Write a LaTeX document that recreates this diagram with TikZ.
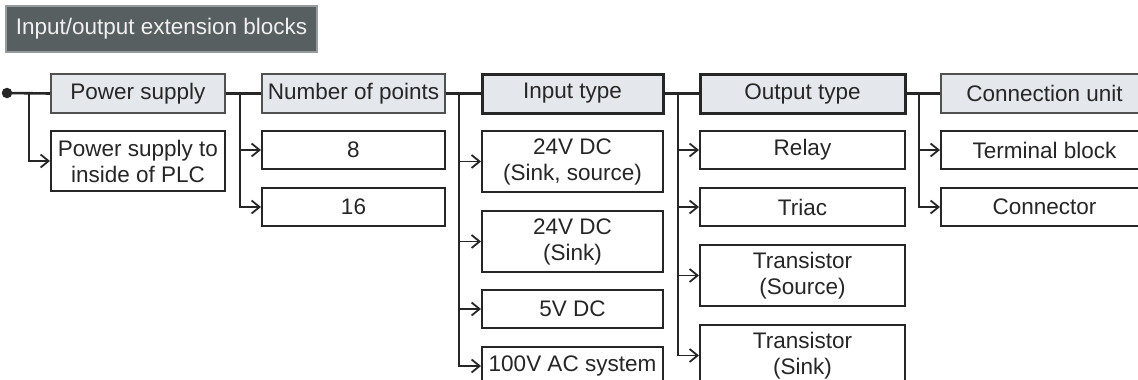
\documentclass[tikz,border=0pt]{standalone}
\usepackage{fontspec}
\setmainfont{Liberation Sans}
\usetikzlibrary{arrows.meta}
\definecolor{titlefill}{RGB}{88,95,97}
\definecolor{titledraw}{RGB}{150,155,158}
\definecolor{headfill}{RGB}{228,231,236}
\definecolor{ink}{RGB}{38,38,38}
\tikzset{
  base/.style={inner sep=0pt, align=center, text=ink,
    font=\fontsize{22.5}{26}\selectfont},
  titlebox/.style={base, fill=titlefill, draw=titledraw, line width=1.2pt,
    text=white!94!black},
  headthin/.style={base, fill=headfill, draw=ink!80, line width=1.6pt},
  headthick/.style={base, fill=headfill, draw=ink, line width=3pt},
  childbox/.style={base, fill=white, draw=ink, line width=2pt},
  mainline/.style={draw=ink, line width=2.6pt},
  branch/.style={draw=ink, line width=1.8pt,
    -{Straight Barb[length=8pt,width=13pt,line width=1.8pt]}},
  dotnode/.style={circle, fill=ink, inner sep=0pt, minimum size=10.5pt},
}
\begin{document}
\begin{tikzpicture}[x=1pt,y=-1pt]
\useasboundingbox (0,0) rectangle (1138,380);
\clip (0,0) rectangle (1138,380);
% title
\node[titlebox, minimum width=311pt, minimum height=46pt] (title) at (161.5,29) {Input/output extension blocks};
% headers
\node[headthin,  minimum width=174pt, minimum height=39pt] (h1) at (138,93.5) {Power supply};
\node[headthin,  minimum width=183pt, minimum height=39pt] (h2) at (353.5,93.5) {Number of points};
\node[headthick, minimum width=181pt, minimum height=39pt] (h3) at (572.5,93.5) {Input type};
\node[headthick, minimum width=205pt, minimum height=39pt] (h4) at (802.5,93.5) {Output type};
\node[headthin,  minimum width=207pt, minimum height=39pt] (h5) at (1044.5,93.5) {Connection unit};
% children
\node[childbox, minimum width=174pt, minimum height=60pt] (c1a) at (138,161) {Power supply to\\inside of PLC};
\node[childbox, minimum width=183pt, minimum height=38pt] (c2a) at (353.5,150) {8};
\node[childbox, minimum width=183pt, minimum height=38pt] (c2b) at (353.5,207) {16};
\node[childbox, minimum width=181pt, minimum height=61pt] (c3a) at (572.5,161.5) {24V DC\\(Sink, source)};
\node[childbox, minimum width=181pt, minimum height=61pt] (c3b) at (572.5,241.5) {24V DC\\(Sink)};
\node[childbox, minimum width=181pt, minimum height=38pt] (c3c) at (572.5,309) {5V DC};
\node[childbox, minimum width=181pt, minimum height=38pt] (c3d) at (572.5,366) {100V AC system};
\node[childbox, minimum width=205pt, minimum height=38pt] (c4a) at (802.5,150) {Relay};
\node[childbox, minimum width=205pt, minimum height=38pt] (c4b) at (802.5,207) {Triac};
\node[childbox, minimum width=205pt, minimum height=61pt] (c4c) at (802.5,275.5) {Transistor\\(Source)};
\node[childbox, minimum width=205pt, minimum height=61pt] (c4d) at (802.5,355.5) {Transistor\\(Sink)};
\node[childbox, minimum width=207pt, minimum height=38pt] (c5a) at (1044.5,150) {Terminal block};
\node[childbox, minimum width=207pt, minimum height=38pt] (c5b) at (1044.5,207) {Connector};
% main line
\node[dotnode] (dot) at (7,93) {};
\coordinate (b1) at (29,93);
\coordinate (b2) at (240,93);
\coordinate (b3) at (459,93);
\coordinate (b4) at (678,93);
\coordinate (b5) at (919,93);
\draw[mainline] (dot.center) -- (h1.west);
\draw[mainline] (h1.east) -- (h2.west);
\draw[mainline] (h2.east) -- (h3.west);
\draw[mainline] (h3.east) -- (h4.west);
\draw[mainline] (h4.east) -- (h5.west);
% branches
\draw[branch] (b1) |- (c1a.west);
\draw[branch] (b2) |- (c2a.west);
\draw[branch] (b2) |- (c2b.west);
\draw[branch] (b3) |- (c3a.west);
\draw[branch] (b3) |- (c3b.west);
\draw[branch] (b3) |- (c3c.west);
\draw[branch] (b3) |- (c3d.west);
\draw[branch] (b4) |- (c4a.west);
\draw[branch] (b4) |- (c4b.west);
\draw[branch] (b4) |- (c4c.west);
\draw[branch] (b4) |- (c4d.west);
\draw[branch] (b5) |- (c5a.west);
\draw[branch] (b5) |- (c5b.west);
\end{tikzpicture}
\end{document}
